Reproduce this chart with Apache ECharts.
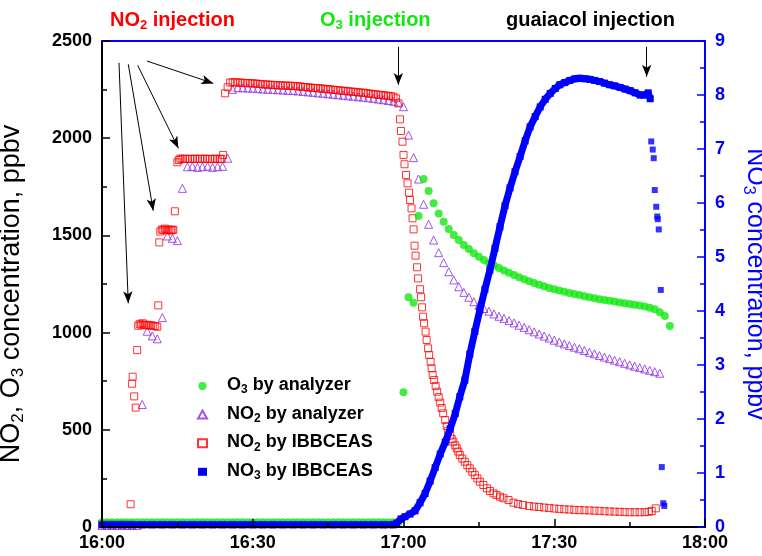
<!DOCTYPE html>
<html><head><meta charset="utf-8">
<script src="https://cdn.jsdelivr.net/npm/echarts@6/dist/echarts.min.js"></script>
<style>html,body{margin:0;padding:0;background:#fff}#c{width:762px;height:556px}</style>
</head><body><div id="c"></div>
<script>
// x values are minutes after 16:00
const xTickLabels = ['16:00','16:30','17:00','17:30','18:00'];
const seriesNames = ['O3 by analyzer','NO2 by analyzer','NO2 by IBBCEAS','NO3 by IBBCEAS'];

const o3Points = [
[0,25],[1,25],[2,25],[3,25],[4,25],[5,25],[6,25],[7,25],[8,25],[9,25],[10,25],[11,25],[12,25],[13,25],[14,25],[15,25],
[16,25],[17,25],[18,25],[19,25],[20,25],[21,25],[22,25],[23,25],[24,25],[25,25],[26,25],[27,25],[28,25],[29,25],[30,25],
[31,25],[32,25],[33,25],[34,25],[35,25],[36,25],[37,25],[38,25],[39,25],[40,25],[41,25],[42,25],[43,25],[44,25],[45,25],
[46,25],[47,25],[48,25],[49,25],[50,25],[51,25],[52,25],[53,25],[54,25],[55,25],[56,25],[57,25],[58,25],[59,25],
[60,693],[61,1182],[62,1154],[63,1600],[64,1790],[65,1728],[66,1665],[67,1613],[68,1570],[69,1533],[70,1502],
[71,1476],[72,1450],[73,1430],[74,1408],[75,1390],[76,1373],[77,1358],[78,1345],[79,1332],[80,1320],[81,1308],
[82,1296],[83,1285],[84,1274],[85,1264],[86,1255],[87,1246],[88,1238],[89,1230],[90,1223],[91,1216],[92,1210],
[93,1204],[94,1198],[95,1193],[96,1187],[97,1182],[98,1177],[99,1172],[100,1168],[101,1164],[102,1160],[103,1155],
[104,1151],[105,1147],[106,1143],[107,1139],[108,1134],[109,1128],[110,1120],[111,1105],[112,1085],[113,1034]
];

const no2AnalyzerPoints = [
[0,8],[1,8],[2,8],[3,8],[4,8],[5,8],[6,8],[7,8],[8,630],[9,1007],[10,983],[11,968],[12,1077],[13,1497],[14,1485],
[15,1473],[16,1742],[17,1853],[18,1855],[19,1850],[20,1853],[21,1856],[22,1850],[23,1853],[24,1855],[25,1897],
[26,2251],[27,2260],[28,2259],[29,2258],[30,2257],[31,2255],[32,2253],[33,2252],[34,2251],[35,2249],[36,2248],
[37,2246],[38,2245],[39,2243],[40,2241],[41,2238],[42,2236],[43,2233],[44,2231],[45,2228],[46,2226],[47,2223],
[48,2221],[49,2218],[50,2216],[51,2213],[52,2211],[53,2208],[54,2205],[55,2201],[56,2198],[57,2194],[58,2190],
[59,2185],[60,2162],[61,2016],[62,1900],[63,1790],[64,1660],[65,1557],[66,1476],[67,1411],[68,1360],[69,1313],
[70,1271],[71,1236],[72,1207],[73,1182],[74,1159],[75,1140],[76,1124],[77,1110],[78,1096],[79,1084],[80,1073],
[81,1062],[82,1050],[83,1038],[84,1027],[85,1015],[86,1004],[87,993],[88,982],[89,972],[90,961],[91,951],[92,942],
[93,933],[94,925],[95,917],[96,908],[97,899],[98,891],[99,882],[100,874],[101,866],[102,858],[103,850],[104,842],
[105,834],[106,827],[107,820],[108,813],[109,806],[110,799],[111,791]
];

const no2IbbceasPoints = [
[0,15],[0.5,15],[1,15],[1.5,15],[2,15],[2.5,15],[3,15],[3.5,15],[4,15],[4.5,15],[5,15],[5.5,15],
[5.7,117],[6.0,737],[6.1,773],[6.4,672],[6.7,614],[7.0,910],[7.2,1035],[7.5,1045],[7.8,1040],[8.1,1048],[8.4,1040],
[8.7,1038],[9.0,1040],[9.4,1036],[9.8,1038],[10.2,1035],[10.6,1034],[11.0,1030],[11.2,1140],[11.4,1464],[11.6,1520],
[11.9,1530],[12.2,1528],[12.5,1535],[12.8,1526],[13.1,1530],[13.4,1528],[13.7,1525],[14.0,1530],[14.2,1528],[14.5,1624],
[15.0,1876],[15.3,1888],[15.6,1895],[16.0,1893],[16.5,1895],[17,1893],[17.5,1894],[18,1893],[18.5,1895],[19,1893],
[19.5,1894],[20,1893],[20.5,1895],[21,1893],[21.5,1894],[22,1893],[22.5,1895],[23,1893],[23.5,1894],[23.8,1893],
[24.1,1914],[24.5,2231],[25.0,2262],[25.5,2286],[26,2288],[26.5,2287],[27,2287],[27.5,2286],[28,2285],[28.5,2284],
[29,2283],[29.5,2283],[30,2282],[30.5,2281],[31,2280],[31.5,2279],[32,2277],[32.5,2276],[33,2276],[33.5,2275],
[34,2274],[34.5,2273],[35,2272],[35.5,2272],[36,2271],[36.5,2271],[37,2270],[37.5,2270],[38,2269],[38.5,2268],
[39,2267],[39.5,2266],[40,2264],[40.5,2263],[41,2262],[41.5,2260],[42,2259],[42.5,2258],[43,2257],[43.5,2256],
[44,2255],[44.5,2253],[45,2252],[45.5,2251],[46,2249],[46.5,2248],[47,2247],[47.5,2245],[48,2244],[48.5,2243],
[49,2241],[49.5,2240],[50,2239],[50.5,2238],[51,2236],[51.5,2235],[52,2234],[52.5,2232],[53,2230],[53.5,2229],
[54,2227],[54.5,2225],[55,2224],[55.5,2222],[56,2221],[56.5,2219],[57,2218],[57.5,2216],[58,2214],[58.5,2205],
[59.0,2179],[59.3,2097],[59.5,2037],[59.8,1982],[60.0,1914],[60.2,1866],[60.5,1811],[60.8,1768],[61.1,1720],
[61.3,1682],[61.6,1639],[61.8,1588],[62.0,1531],[62.2,1447],[62.4,1396],[62.7,1336],[62.9,1279],[63.3,1223],
[63.5,1182],[63.7,1130],[63.9,1082],[64.1,1048],[64.4,1005],[64.6,962],[64.9,919],[65.1,885],[65.4,850],[65.6,816],
[65.8,782],[66.1,756],[66.4,725],[66.7,696],[67.0,668],[67.3,640],[67.6,612],[67.9,585],[68.3,550],[68.6,520],
[68.9,495],[69.3,470],[69.6,452],[69.9,439],[70.3,420],[70.6,405],[70.9,388],[71.2,370],[71.7,352],[72.2,336],
[72.7,318],[73.2,302],[73.7,284],[74.2,267],[74.7,250],[75.2,233],[75.9,216],[76.6,199],[77.2,185],[77.9,173],
[78.5,165],[79.2,156],[79.9,148],[80.9,139],[81.9,125],[82.8,118],[83.8,113],[85,108],[86,105],[87,103],[88,100],
[89,98],[90,95],[91,93],[92,91],[93,90],[94,88],[95,87],[96,86],[97,85],[98,84],[99,83],[100,81],[101,80],[102,79],
[103,78],[104,77],[105,76],[106,76],[107,76],[108,76],[108.8,78],[109.4,82],[110.2,96]
];

const no3Points = [
[0,0.04],[2,0.04],[4,0.04],[6,0.04],[8,0.04],[10,0.04],[12,0.04],[14,0.04],[16,0.04],[18,0.04],[20,0.04],[22,0.04],
[24,0.04],[26,0.04],[28,0.04],[30,0.04],[32,0.04],[34,0.04],[36,0.04],[38,0.04],[40,0.04],[42,0.04],[44,0.04],
[46,0.04],[48,0.04],[50,0.04],[52,0.04],[54,0.04],[56,0.04],[58,0.04],
[58.6,0.07],[59.5,0.15],[60.3,0.19],[61.3,0.24],[62.3,0.3],[63.3,0.45],[64.3,0.62],[65.3,0.85],[66.3,1.1],[67.3,1.35],
[68.3,1.57],[69.3,1.82],[70.3,2.1],[71.2,2.41],[72.2,2.72],[73.2,3.2],[74.2,3.62],[75.2,4.02],[76.2,4.4],[77.2,4.76],
[78.2,5.16],[79.2,5.56],[80.2,5.95],[81.2,6.28],[82.2,6.58],[83.2,6.86],[84.2,7.15],[85.2,7.41],[86.2,7.6],[87.2,7.78],
[88.2,7.92],[89.2,8.03],[90.2,8.12],[91.1,8.19],[92.1,8.23],[93.1,8.27],[94.1,8.3],[95.1,8.31],[96.1,8.3],[97.1,8.29],
[98,8.27],[99,8.25],[100,8.22],[101,8.19],[102,8.17],[103.1,8.14],[104.1,8.11],[105.1,8.08],[106.1,8.04],[107.1,8.0],
[108,8.0],[108.7,8.04],[109.1,7.93]
];

const no3DropPoints = [
[109.3,7.14],[109.6,6.99],[109.8,6.83],[110.0,6.24],[110.3,5.93],[110.5,5.75],[110.6,5.7],[110.8,5.51],
[111.2,4.39],[111.4,1.11],[111.7,0.44],[111.9,0.39]
];

// annotation arrows: [x0, y0, x1, y1] in data units (left axis)
const arrows = [
[3.38,2388,5.23,1151],[5.23,2380,10.2,1627],[7.1,2375,15.2,1948],[8.96,2397,22.15,2282],
[58.97,2470,58.97,2274],[108.4,2470,108.4,2316]
];

const FONT = '"Liberation Sans", Arial, Helvetica, sans-serif';
const RED = '#ff0000', GREEN = '#10e810', PURPLE = '#8a2be8', BLUE = '#0000ff';

const legendText = {
  'O3 by analyzer': '{g| }{m|O}{s|3}{m| by analyzer}',
  'NO2 by analyzer': '{g| }{m|NO}{s|2}{m| by analyzer}',
  'NO2 by IBBCEAS': '{g| }{m|NO}{s|2}{m| by IBBCEAS}',
  'NO3 by IBBCEAS': '{g| }{m|NO}{s|3}{m| by IBBCEAS}'
};

function richSet(size, subSize, color, weight, pad) {
  return {
    m: {fontSize: size, fontWeight: weight, color: color, fontFamily: FONT, lineHeight: size + 2, padding: [0,0,pad,0], verticalAlign: 'top'},
    s: {fontSize: subSize, fontWeight: weight, color: color, fontFamily: FONT, lineHeight: subSize, verticalAlign: 'bottom'},
    g: {width: 15, fontSize: 10, lineHeight: 10}
  };
}

const chart = echarts.init(document.getElementById('c'), null, {renderer: 'canvas'});
const axisTickStyle = (c) => ({show: true, inside: true, length: 8, lineStyle: {color: c, width: 1.5}});
const minorTickStyle = (c) => ({show: true, splitNumber: 2, length: 5, lineStyle: {color: c, width: 1.5}});

chart.setOption({
  animation: false,
  backgroundColor: '#fff',
  textStyle: {fontFamily: FONT},
  title: [
    {text: '{m|NO}{s|2}{m| injection}', left: 110, top: 10, padding: 0,
     textStyle: {rich: richSet(20, 13, RED, 'bold', 4)}},
    {text: '{m|O}{s|3}{m| injection}', left: 320, top: 10, padding: 0,
     textStyle: {rich: richSet(20, 13, GREEN, 'bold', 4)}},
    {text: '{m|guaiacol injection}', left: 506, top: 10, padding: 0,
     textStyle: {rich: richSet(20, 13, '#000', 'bold', 4)}}
  ],
  grid: {left: 102, right: 57, top: 41, bottom: 29, containLabel: false, outerBoundsMode: 'none'},
  legend: {
    orient: 'vertical', left: 197, top: 376, padding: 0,
    itemWidth: 9, itemHeight: 8, itemGap: 8.6,
    data: [
      {name: seriesNames[0]}, {name: seriesNames[1]}, {name: seriesNames[2]},
      {name: seriesNames[3], icon: 'rect'}
    ],
    formatter: n => legendText[n],
    textStyle: {rich: richSet(18, 12, '#000', 'bold', 2)}
  },
  xAxis: [{
    type: 'value', min: 0, max: 120, interval: 30, z: 10,
    axisLine: {show: true, onZero: false, lineStyle: {color: '#000', width: 2}},
    axisTick: axisTickStyle('#000'), minorTick: minorTickStyle('#000'),
    splitLine: {show: false},
    axisLabel: {fontSize: 18, fontWeight: 'bold', color: '#000', fontFamily: FONT, margin: 7,
      formatter: v => xTickLabels[Math.round(v / 30)]}
  }, {
    type: 'value', position: 'top', min: 0, max: 120, z: 10,
    axisLine: {show: true, onZero: false, lineStyle: {color: BLUE, width: 2}},
    axisTick: {show: false}, axisLabel: {show: false}, splitLine: {show: false}
  }],
  yAxis: [{
    type: 'value', min: 0, max: 2500, interval: 500, z: 10,
    axisLine: {show: true, onZero: false, lineStyle: {color: '#000', width: 2}},
    axisTick: axisTickStyle('#000'), minorTick: minorTickStyle('#000'),
    splitLine: {show: false},
    axisLabel: {fontSize: 18, fontWeight: 'bold', color: '#000', fontFamily: FONT, margin: 10,
      formatter: v => String(v)},
    name: '{m|NO}{s|2}{m|, O}{s|3}{m| concentration, ppbv}',
    nameLocation: 'middle', nameGap: 75, nameRotate: 90,
    nameTextStyle: {padding: [0, 20, 0, 0], rich: richSet(27, 17, '#000', 'normal', 3)}
  }, {
    type: 'value', position: 'right', min: 0, max: 9, interval: 1, z: 10,
    axisLine: {show: true, onZero: false, lineStyle: {color: BLUE, width: 2}},
    axisTick: axisTickStyle(BLUE), minorTick: minorTickStyle(BLUE),
    splitLine: {show: false},
    axisLabel: {fontSize: 18, fontWeight: 'bold', color: BLUE, fontFamily: FONT, margin: 10,
      formatter: v => String(v)},
    name: '{m|NO}{s|3}{m| concentration, ppbv}',
    nameLocation: 'middle', nameGap: 35, nameRotate: -90,
    nameTextStyle: {rich: richSet(25, 16, BLUE, 'normal', 3)}
  }],
  series: [
    {
      name: seriesNames[1], type: 'scatter', symbol: 'triangle', symbolSize: 8,
      itemStyle: {color: 'rgba(255,255,255,0)', borderColor: PURPLE, borderWidth: 1},
      data: no2AnalyzerPoints, z: 2,
      markLine: {
        silent: true, symbol: ['none', 'arrow'], symbolSize: [7, 12],
        label: {show: false}, lineStyle: {color: '#000', width: 1, type: 'solid'},
        emphasis: {disabled: true},
        data: arrows.map(a => [{coord: [a[0], a[1]]}, {coord: [a[2], a[3]]}])
      }
    },
    {
      name: seriesNames[2], type: 'scatter', symbol: 'rect', symbolSize: 7,
      itemStyle: {color: 'rgba(255,255,255,0)', borderColor: RED, borderWidth: 1},
      data: no2IbbceasPoints, z: 3
    },
    {
      name: seriesNames[0], type: 'scatter', symbol: 'circle', symbolSize: 8,
      itemStyle: {color: GREEN}, data: o3Points, z: 4
    },
    {
      name: seriesNames[3], type: 'line', yAxisIndex: 1, symbol: 'rect', symbolSize: 7,
      showSymbol: true, color: BLUE, lineStyle: {color: BLUE, width: 7},
      itemStyle: {color: BLUE}, data: no3Points, z: 5
    },
    {
      name: 'NO3 drop', type: 'scatter', yAxisIndex: 1, symbol: 'rect', symbolSize: 6,
      itemStyle: {color: BLUE}, data: no3DropPoints, z: 5
    }
  ]
});
</script></body></html>
